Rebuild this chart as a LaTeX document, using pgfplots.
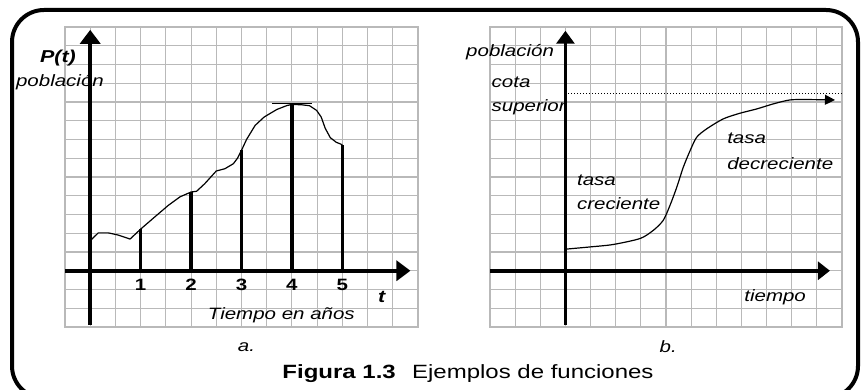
\documentclass[border=0pt]{standalone}
\usepackage{pgfplots}
\pgfplotsset{compat=1.18}
\usepackage{fontspec}
\setmainfont[FakeStretch=1.25]{Liberation Sans}
\usetikzlibrary{arrows.meta}

\pgfplotsset{
  papel/.style={
    scale only axis, height=150pt, clip=false,
    ymin=-3, ymax=13, ytick={-3,...,13},
    xticklabels={}, yticklabels={},
    major tick length=0pt, grid=major,
    grid style={gray!55, line width=0.55pt},
    axis line style={gray!55, line width=0.55pt},
  },
  eje/.style={black, line width=1.8pt, -{Triangle[length=7pt,width=10pt]}},
}
\newcommand{\lbl}{\fontsize{8.2}{10}\selectfont\itshape}
\newcommand{\num}{\fontsize{8.2}{10}\selectfont\bfseries}
\newcommand{\bit}{\fontsize{8.6}{10}\selectfont\bfseries\itshape}

\begin{document}
\begin{tikzpicture}
  \useasboundingbox (0,0) rectangle (431pt,195pt);
  % marco redondeado
  \draw[line width=2pt, rounded corners=16pt] (6pt,-4pt) rectangle (429pt,190pt);

  % ---- a. poblacion por anio
  \begin{axis}[papel, at={(32.5pt,31.5pt)}, anchor=south west,
      width=176.5pt, xmin=-0.5, xmax=6.5, xtick={-0.5,0,...,6.5}]
    \addplot[eje] coordinates {(-0.5,0) (6.35,0)};
    \addplot[eje] coordinates {(0,-2.9) (0,12.85)};
    \addplot[black, line width=0.6pt] coordinates {
      (0,1.6) (0.16,2.02) (0.36,2.02) (0.56,1.9) (0.79,1.69) (1.0,2.22)
      (1.28,2.87) (1.55,3.49) (1.78,3.94) (2.0,4.2) (2.11,4.24) (2.27,4.64)
      (2.5,5.32) (2.67,5.44) (2.84,5.71) (2.92,6.0) (3.0,6.42) (3.1,7.0)
      (3.27,7.75) (3.45,8.2) (3.7,8.6) (3.9,8.81) (4.0,8.87) (4.2,8.85)
      (4.35,8.8) (4.49,8.55) (4.58,8.2) (4.66,7.6) (4.76,7.1) (4.88,6.85)
      (5.0,6.72)
    };
    \addplot[ycomb, black, line width=1.6pt] coordinates {
      (1,2.22) (2,4.2) (3,6.42) (4,8.87) (5,6.72)
    };
    \addplot[black, line width=0.9pt] coordinates {(3.6,8.92) (4.4,8.92)};
    \node[font=\num] at (axis cs:1,-0.77) {1};
    \node[font=\num] at (axis cs:2,-0.77) {2};
    \node[font=\num] at (axis cs:3,-0.77) {3};
    \node[font=\num] at (axis cs:4,-0.77) {4};
    \node[font=\num] at (axis cs:5,-0.77) {5};
    \node[font=\bit] at (axis cs:-0.64,11.36) {P(t)};
    \node[font=\lbl] at (axis cs:-0.6,10.05) {población};
    \node[font=\bit] at (axis cs:5.78,-1.39) {t};
    \node[font=\lbl] at (axis cs:3.79,-2.36) {Tiempo en años};
    \node[font=\lbl] at (axis cs:3.1,-4.05) {a.};
  \end{axis}

  % ---- b. crecimiento logistico
  \begin{axis}[papel, at={(245pt,31.5pt)}, anchor=south west,
      width=176pt, xmin=-3, xmax=11, xtick={-3,...,11}]
    \addplot[eje, -{Triangle[length=6pt,width=9pt]}] coordinates {(-3,0) (10.52,0)};
    \addplot[eje, -{Triangle[length=6.5pt,width=9pt]}] coordinates {(0,-2.9) (0,12.8)};
    \addplot[black, line width=0.5pt, densely dotted] coordinates {(0,9.43) (11,9.43)};
    \addplot[black, line width=0.6pt, smooth, tension=0.45,
        -{Triangle[length=5pt,width=5pt]}] coordinates {
      (0,1.15) (0.98,1.27) (1.9,1.4) (2.97,1.72) (3.5,2.16) (3.89,2.69)
      (4.16,3.49) (4.43,4.46) (4.69,5.53) (4.96,6.41) (5.22,7.12) (5.62,7.57)
      (6.28,8.1) (6.94,8.4) (7.61,8.63) (8.27,8.9) (8.93,9.11) (9.6,9.13)
      (10.72,9.11)
    };
    \node[font=\lbl] at (axis cs:-2.2,11.64) {población};
    \node[font=\lbl, anchor=west, inner sep=0pt] at (axis cs:-2.95,10.05) {cota};
    \node[font=\lbl, anchor=west, inner sep=0pt] at (axis cs:-2.95,8.72) {superior};
    \node[font=\lbl, anchor=west, inner sep=0pt] at (axis cs:0.45,4.82) {tasa};
    \node[font=\lbl, anchor=west, inner sep=0pt] at (axis cs:0.45,3.58) {creciente};
    \node[font=\lbl, anchor=west, inner sep=0pt] at (axis cs:6.42,7.04) {tasa};
    \node[font=\lbl, anchor=west, inner sep=0pt] at (axis cs:6.42,5.71) {decreciente};
    \node[font=\lbl] at (axis cs:8.34,-1.39) {tiempo};
    \node[font=\lbl] at (axis cs:4.09,-4.05) {b.};
  \end{axis}

  \node[anchor=base, font=\fontsize{9.6}{12}\selectfont] at (234pt,5.5pt)
    {\textbf{Figura 1.3}\hspace{0.5em} Ejemplos de funciones};
\end{tikzpicture}
\end{document}
